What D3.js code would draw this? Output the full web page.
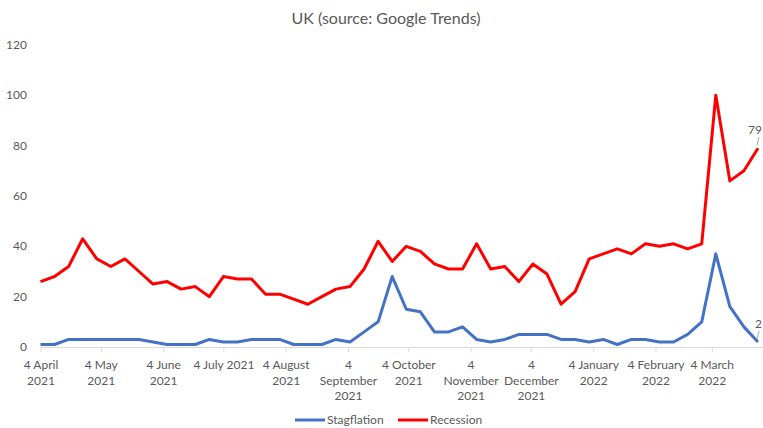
<!DOCTYPE html>
<html>
<head>
<meta charset="utf-8">
<script src="https://cdn.jsdelivr.net/npm/d3@7"></script>
<style>
  body { margin: 0; background: #fff; }
  text { font-family: Lato, "Open Sans", sans-serif; fill: #595959; }
</style>
</head>
<body>
<script>
// Weekly Google Trends scores, UK
var weeks = ['2021-04-04', '2021-04-11', '2021-04-18', '2021-04-25', '2021-05-02',
  '2021-05-09', '2021-05-16', '2021-05-23', '2021-05-30', '2021-06-06', '2021-06-13',
  '2021-06-20', '2021-06-27', '2021-07-04', '2021-07-11', '2021-07-18', '2021-07-25',
  '2021-08-01', '2021-08-08', '2021-08-15', '2021-08-22', '2021-08-29', '2021-09-05',
  '2021-09-12', '2021-09-19', '2021-09-26', '2021-10-03', '2021-10-10', '2021-10-17',
  '2021-10-24', '2021-10-31', '2021-11-07', '2021-11-14', '2021-11-21', '2021-11-28',
  '2021-12-05', '2021-12-12', '2021-12-19', '2021-12-26', '2022-01-02', '2022-01-09',
  '2022-01-16', '2022-01-23', '2022-01-30', '2022-02-06', '2022-02-13', '2022-02-20',
  '2022-02-27', '2022-03-06', '2022-03-13', '2022-03-20', '2022-03-27'];

var stagflation = [1, 1, 3, 3, 3, 3, 3, 3, 2, 1, 1, 1, 3, 2, 2, 3, 3, 3, 1, 1,
  1, 3, 2, 6, 10, 28, 15, 14, 6, 6, 8, 3, 2, 3, 5, 5, 5, 3, 3, 2,
  3, 1, 3, 3, 2, 2, 5, 10, 37, 16, 8, 2];

var recession = [26, 28, 32, 43, 35, 32, 35, 30, 25, 26, 23, 24, 20, 28, 27, 27, 21, 21, 19, 17,
  20, 23, 24, 31, 42, 34, 40, 38, 33, 31, 31, 41, 31, 32, 26, 33, 29, 17, 22, 35,
  37, 39, 37, 41, 40, 41, 39, 41, 100, 66, 70, 79];

var tickDates = ['2021-04-04', '2021-05-04', '2021-06-04', '2021-07-04', '2021-08-04',
  '2021-09-04', '2021-10-04', '2021-11-04', '2021-12-04', '2022-01-04', '2022-02-04',
  '2022-03-04'];
var tickLabels = ['4 April\n2021', '4 May\n2021', '4 June\n2021', '4 July 2021',
  '4 August\n2021', '4\nSeptember\n2021', '4 October\n2021', '4\nNovember\n2021',
  '4\nDecember\n2021', '4 January\n2022', '4 February\n2022', '4 March\n2022'];

var yTicks = [0, 20, 40, 60, 80, 100, 120];

var seriesNames = ['Stagflation', 'Recession'];
var seriesColors = ['#4472c4', '#ff0000'];

var width = 763,
  height = 428;

var parse = d3.timeParse('%Y-%m-%d');
var dates = weeks.map(parse);

var svg = d3.select('body')
  .append('svg')
  .attr('width', width)
  .attr('height', height);

var x = d3.scaleTime()
  .domain([dates[0], dates[dates.length - 1]])
  .range([40.5, 758]);

var y = d3.scaleLinear()
  .domain([0, 120])
  .range([347, 45]);

// Title
svg.append('text')
  .attr('x', 386)
  .attr('y', 24)
  .attr('text-anchor', 'middle')
  .style('font-size', '16px')
  .text('UK (source: Google Trends)');

// Y axis labels (no axis line, no gridlines)
svg.append('g')
  .selectAll('text')
  .data(yTicks)
  .enter()
  .append('text')
  .attr('x', 27)
  .attr('y', function(d) { return y(d) + 4; })
  .attr('text-anchor', 'end')
  .style('font-size', '12px')
  .text(function(d) { return d; });

// X axis
var xAxis = d3.axisBottom(x)
  .tickValues(tickDates.map(parse))
  .tickSize(5)
  .tickFormat('');

var gx = svg.append('g')
  .attr('transform', 'translate(0,' + y(0) + ')')
  .call(xAxis);
gx.select('.domain')
  .attr('stroke', '#d9d9d9')
  .attr('d', 'M' + x(dates[0]) + ',0.5H' + width);
gx.selectAll('.tick line').attr('stroke', '#d9d9d9');

gx.selectAll('.tick')
  .data(tickLabels)
  .each(function(lbl) {
    var t = d3.select(this).append('text')
      .attr('text-anchor', 'middle')
      .attr('fill', '#595959')
      .style('font-size', '12px')
      .style('font-family', 'Lato, "Open Sans", sans-serif');
    lbl.split('\n').forEach(function(line, i) {
      t.append('tspan')
        .attr('x', 0)
        .attr('y', 22 + i * 15.5)
        .text(line);
    });
  });

// Lines
var line = d3.line()
  .x(function(d, i) { return x(dates[i]); })
  .y(function(d) { return y(d); });

var allSeries = [stagflation, recession];

svg.append('g')
  .selectAll('path')
  .data(allSeries)
  .enter()
  .append('path')
  .attr('fill', 'none')
  .attr('stroke', function(d, i) { return seriesColors[i]; })
  .attr('stroke-width', 3)
  .attr('stroke-linejoin', 'round')
  .attr('d', line);

// End-point data callouts (kept just inside the right edge)
var last = dates.length - 1;
var callouts = svg.append('g');
allSeries.forEach(function(s, i) {
  var px = x(dates[last]),
    py = y(s[last]);
  callouts.append('line')
    .attr('x1', px + 1).attr('y1', py - 11)
    .attr('x2', px - 1).attr('y2', py - 3)
    .attr('stroke', '#a6a6a6')
    .attr('stroke-width', 1);
  callouts.append('text')
    .attr('x', width - 1)
    .attr('y', py - 14)
    .attr('text-anchor', 'end')
    .attr('fill', '#404040')
    .style('font-size', '12px')
    .text(s[last]);
});

// Legend
var legend = svg.append('g')
  .selectAll('g')
  .data(seriesNames)
  .enter()
  .append('g')
  .attr('transform', function(d, i) { return 'translate(' + (295 + i * 103) + ',420)'; });

legend.append('line')
  .attr('x1', 0).attr('x2', 30)
  .attr('y1', 0).attr('y2', 0)
  .attr('stroke', function(d, i) { return seriesColors[i]; })
  .attr('stroke-width', 3);

legend.append('text')
  .attr('x', 32)
  .attr('y', 4)
  .style('font-size', '12px')
  .text(function(d) { return d; });
</script>
</body>
</html>
